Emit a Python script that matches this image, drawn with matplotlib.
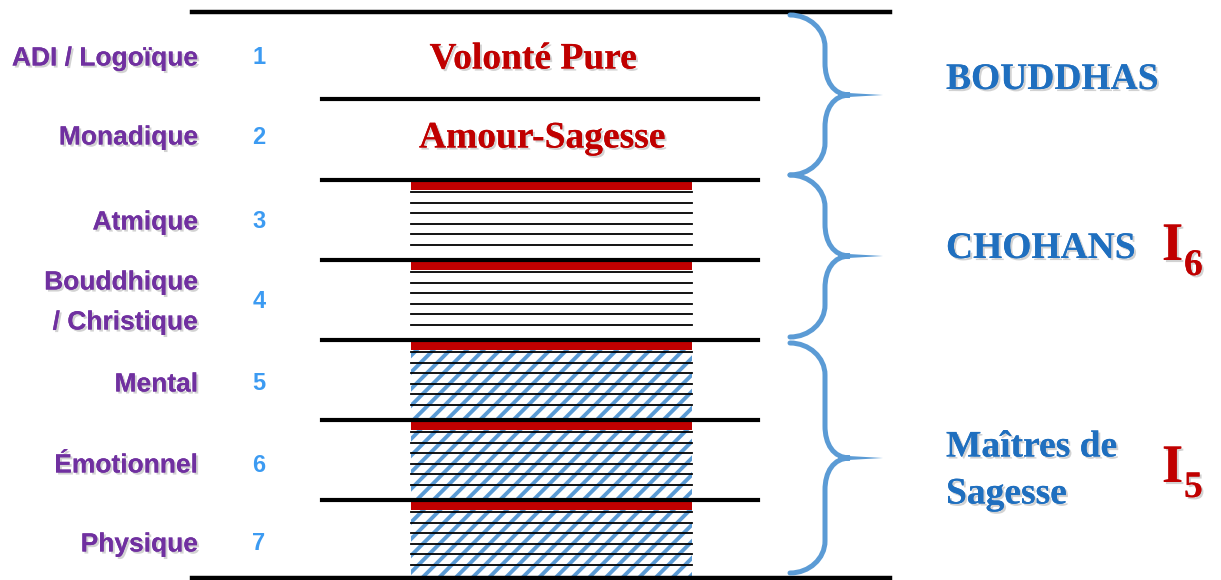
import matplotlib
matplotlib.use('Agg')
import matplotlib.pyplot as plt
import matplotlib.patheffects as pe
from matplotlib.patches import Rectangle, PathPatch, Polygon
from matplotlib.path import Path

# --- content ---
plane_names = ['ADI / Logoïque', 'Monadique', 'Atmique', 'Bouddhique\n/ Christique',
               'Mental', 'Émotionnel', 'Physique']
plane_numbers = ['1', '2', '3', '4', '5', '6', '7']
centre_texts = ['Volonté Pure', 'Amour-Sagesse']
plane_fill = ['text', 'text', 'lines', 'lines', 'hatch', 'hatch', 'hatch']
groups = ['BOUDDHAS', 'CHOHANS', 'Maîtres de\nSagesse']
group_first = [0, 2, 4]
group_last = [1, 3, 6]
group_index = ['', '6', '5']

# --- layout (pixels, y downwards) ---
bounds = [12, 99, 180, 260, 340, 420, 500, 578]
row_y = [56, 135, 220, 300, 382, 463, 542]
group_y = [77, 246, 468]

PURPLE = '#7030A0'
NUMBLUE = '#3C9BF2'
RED = '#C00000'
DARKBLUE = '#1F6FBF'
BRACE = '#5B9BD5'

plt.rcParams['hatch.linewidth'] = 2.8

fig = plt.figure(figsize=(12.21, 5.80), dpi=100)
ax = fig.add_axes([0, 0, 1, 1])
ax.set_xlim(0, 1221)
ax.set_ylim(580, 0)
ax.axis('off')

shadow = [pe.withSimplePatchShadow(offset=(1.5, -1.5), shadow_rgbFace='#808080', alpha=0.35),
          pe.Normal()]

# fills inside each plane
fx0, fx1 = 411, 692
for i, kind in enumerate(plane_fill):
    if kind == 'text':
        continue
    top, bot = bounds[i], bounds[i + 1]
    if kind == 'hatch':
        ax.add_patch(Rectangle((fx0, top + 10), fx1 - fx0, bot - top - 10,
                               facecolor='white', edgecolor=BRACE, hatch='//',
                               linewidth=0, zorder=1))
    for k in range(6):
        yy = top + 12 + k * 10.6
        ax.plot([fx0, fx1], [yy, yy], color='black', lw=1.3, zorder=2)
    ax.add_patch(Rectangle((fx0, top), fx1 - fx0, 10, facecolor=RED,
                           edgecolor='none', zorder=3))

# separators
for j, yy in enumerate(bounds):
    if j == 0 or j == len(bounds) - 1:
        ax.plot([192, 890], [yy, yy], color='black', lw=3.2, zorder=4)
    else:
        ax.plot([322, 758], [yy, yy], color='black', lw=3.0, zorder=4)

# left labels and numbers
for name, num, yc in zip(plane_names, plane_numbers, row_y):
    lines = name.split('\n')
    y0 = yc - (len(lines) - 1) * 20
    for k, line in enumerate(lines):
        ax.text(198, y0 + 9.5 + k * 40, line, ha='right', va='baseline',
                fontsize=19, fontweight='bold', family='Liberation Sans',
                color=PURPLE, path_effects=shadow)
    ax.text(259, yc + 8.5, num, ha='center', va='baseline', fontsize=17,
            fontweight='bold', family='Liberation Sans', color=NUMBLUE)

# centre texts
for txt, yc, xc in zip(centre_texts, row_y, [533, 542]):
    ax.text(xc, yc + 12.5, txt, ha='center', va='baseline', fontsize=27,
            fontweight='bold', family='Liberation Serif', color=RED,
            path_effects=shadow)

# braces
def brace(y0, y1, x0=790, xs=825, xt=883, r=32):
    ym = (y0 + y1) / 2
    k = 0.55
    verts = [(x0, y0),
             (x0 + k * (xs - x0), y0), (xs, y0 + r - k * r), (xs, y0 + r),
             (xs, ym - r),
             (xs, ym - r + k * r), (xs + 8, ym), (850, ym),
             (xs + 8, ym), (xs, ym + r - k * r), (xs, ym + r),
             (xs, y1 - r),
             (xs, y1 - r + k * r), (x0 + k * (xs - x0), y1), (x0, y1)]
    codes = [Path.MOVETO, Path.CURVE4, Path.CURVE4, Path.CURVE4, Path.LINETO,
             Path.CURVE4, Path.CURVE4, Path.CURVE4,
             Path.CURVE4, Path.CURVE4, Path.CURVE4, Path.LINETO,
             Path.CURVE4, Path.CURVE4, Path.CURVE4]
    ax.add_patch(PathPatch(Path(verts, codes), facecolor='none', edgecolor=BRACE,
                           lw=3.6, capstyle='round', zorder=5))
    ax.add_patch(Polygon([(838, ym - 2.6), (xt, ym), (838, ym + 2.6)],
                         closed=True, facecolor=BRACE, edgecolor='none', zorder=5))

brace_pad_top = [3, -5, 3]
brace_pad_bot = [-5, -3, -5]
for g, (a, b) in enumerate(zip(group_first, group_last)):
    brace(bounds[a] + brace_pad_top[g], bounds[b + 1] + brace_pad_bot[g])

# group labels
for name, idx, yc in zip(groups, group_index, group_y):
    lines = name.split('\n')
    y0 = yc - (len(lines) - 1) * 23.5
    for k, line in enumerate(lines):
        ax.text(946, y0 + 12 + k * 47, line, ha='left', va='baseline', fontsize=27,
                fontweight='bold', family='Liberation Serif', color=DARKBLUE,
                path_effects=shadow)
    if idx:
        ax.text(1162, yc + 14, 'I', ha='left', va='baseline', fontsize=39,
                fontweight='bold', family='Liberation Serif', color=RED,
                path_effects=shadow)
        ax.text(1184, yc + 29, idx, ha='left', va='baseline', fontsize=27,
                fontweight='bold', family='Liberation Serif', color=RED,
                path_effects=shadow)

fig.savefig('out.png', dpi=100)
